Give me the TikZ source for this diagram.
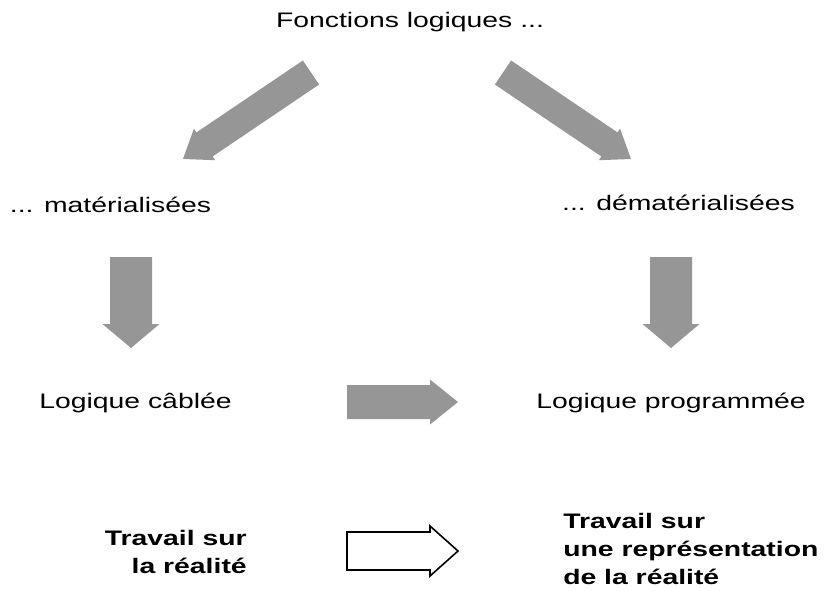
\documentclass[tikz,border=0pt]{standalone}
\usepackage{fontspec}
\setmainfont{Liberation Sans}[FakeStretch=1.35]
\definecolor{arrowgray}{RGB}{150,150,150}

\tikzset{
  % block arrow along local x: length, shaft half-width, head half-width, head length
  pics/blockarrow/.style n args={4}{code={
    \path[pic actions] (0,-#2) -- (#1-#4,-#2) -- (#1-#4,-#3) -- (#1,0)
      -- (#1-#4,#3) -- (#1-#4,#2) -- (0,#2) -- cycle;
  }},
  solidarrow/.style={fill=arrowgray},
  hollowarrow/.style={draw=black, fill=white, line width=1.2pt, line join=miter},
  lbl/.style={font=\fontsize{15.75}{19}\selectfont, inner sep=0pt},
  boldlbl/.style={font=\fontsize{15.75}{21}\selectfont\bfseries, inner sep=0pt},
}

\begin{document}
\begin{tikzpicture}[x=0.75pt, y=-0.75pt]
  \useasboundingbox (0,0) rectangle (824,590);

  % labels
  \node[lbl, anchor=base] (fonc)  at (410,27)   {Fonctions logiques ...};
  \node[lbl, anchor=base] (mat)   at (110.5,212) {... matérialisées};
  \node[lbl, anchor=base] (demat) at (678.5,210) {... dématérialisées};
  \node[lbl, anchor=base] (cab)   at (135.5,408) {Logique câblée};
  \node[lbl, anchor=base] (prog)  at (671,408)   {Logique programmée};

  \node[boldlbl, align=right, anchor=north east] (reel) at (247,530)
    {Travail sur\\la réalité};
  \node[boldlbl, align=left, anchor=north west] (repr) at (563,513)
    {Travail sur\\une représentation\\de la réalité};

  % arrows
  \pic[solidarrow, rotate=214.05] at (311,72.5) {blockarrow={154.5}{14.5}{19}{26}};
  \pic[solidarrow, rotate=-34.05] at (503,72.5) {blockarrow={154.5}{14.5}{19}{26}};
  \pic[solidarrow, rotate=-90] at (131,257) {blockarrow={91}{21}{28.5}{24}};
  \pic[solidarrow, rotate=-90] at (671,257) {blockarrow={91}{21}{28.5}{24}};
  \pic[solidarrow] at (347,402) {blockarrow={111}{17}{22.5}{28}};
  \pic[hollowarrow] at (347,551) {blockarrow={111}{19}{25}{28}};
\end{tikzpicture}
\end{document}
